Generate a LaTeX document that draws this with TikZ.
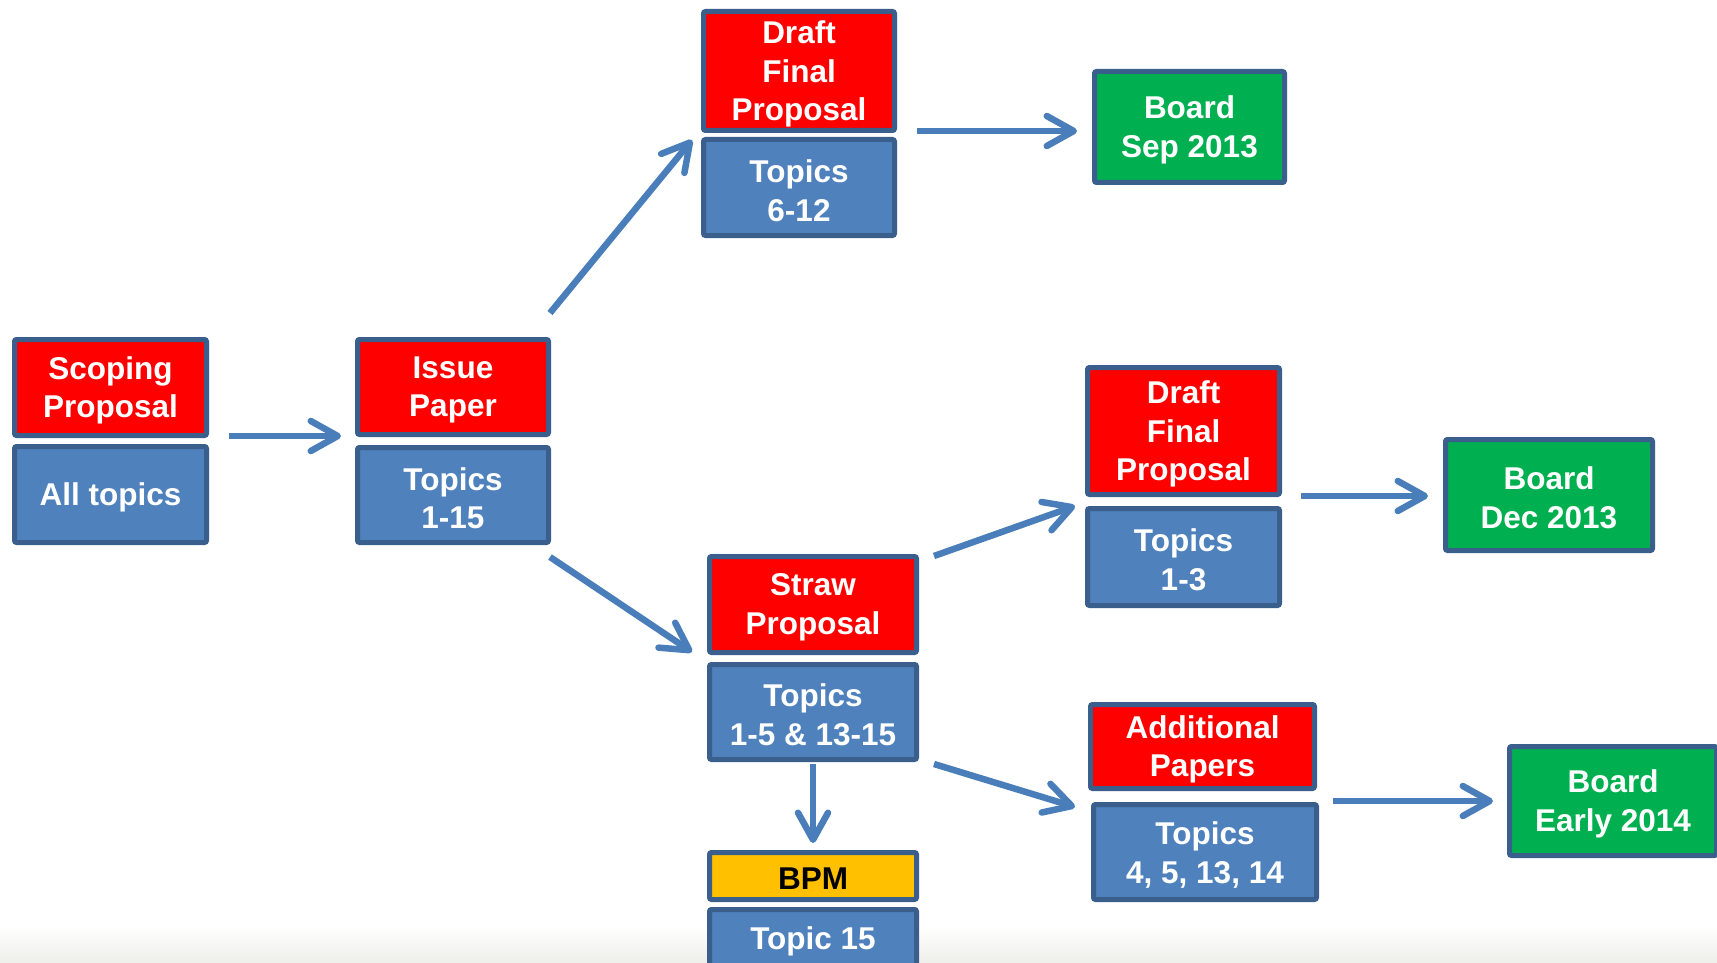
\documentclass[tikz,border=0pt]{standalone}
\usepackage{fontspec}
\setmainfont{Liberation Sans}
\usetikzlibrary{arrows.meta}
\definecolor{bred}{HTML}{FF0000}
\definecolor{bblue}{HTML}{4F81BD}
\definecolor{bgreen}{HTML}{00B050}
\definecolor{byellow}{HTML}{FFC000}
\definecolor{bborder}{HTML}{3A5F8C}
\definecolor{arrowc}{HTML}{4A7EBB}
\definecolor{floor}{HTML}{EEEEEA}
\tikzset{
  box/.style={draw=bborder, line width=5pt, rounded corners=2pt, inner sep=0pt},
  boxtext/.style={inner sep=0pt, align=center,
    font=\fontsize{31.5}{38.5}\selectfont\bfseries},
  flow/.style={draw=arrowc, line width=6.5pt,
    -{Straight Barb[length=27pt, width=30pt, line width=6.5pt, round]}}
}
% name, x1, y1, x2, y2, fill, text colour, text
\newcommand\bx[8]{%
  \node[box, fill=#6, minimum width={#4-#2-5}, minimum height={#5-#3-5}] (#1) at ({(#2+#4)/2},{(#3+#5)/2}) {};
  \node[boxtext, text=#7] (#1-t) at ([yshift=-3pt]#1.center) {#8};}
\begin{document}
\begin{tikzpicture}[x=1pt,y=-1pt]
\useasboundingbox (0,0) rectangle (1717,963);
\shade[top color=white, bottom color=floor] (0,925) rectangle (1717,963);
% boxes
\bx{scop}{12}{337}{209}{438}{bred}{white}{Scoping\\Proposal}
\bx{all}{12}{444}{209}{545}{bblue}{white}{All topics}
\bx{issue}{355}{337}{551}{437}{bred}{white}{Issue\\Paper}
\bx{t115}{355}{445}{551}{545}{bblue}{white}{Topics\\1-15}
\bx{dfpa}{701}{9}{897}{133}{bred}{white}{Draft\\Final\\Proposal}
\bx{t612}{701}{137}{897}{238}{bblue}{white}{Topics\\6-12}
\bx{boarda}{1092}{69}{1287}{185}{bgreen}{white}{Board\\Sep 2013}
\bx{straw}{707}{554}{919}{655}{bred}{white}{Straw\\Proposal}
\bx{t1515}{707}{662}{919}{762}{bblue}{white}{Topics\\1-5 \& 13-15}
\bx{bpm}{707}{850}{919}{902}{byellow}{black}{BPM}
\bx{t15}{707}{907}{919}{970}{bblue}{white}{Topic 15}
\bx{dfpb}{1085}{365}{1282}{497}{bred}{white}{Draft\\Final\\Proposal}
\bx{t13}{1085}{506}{1282}{608}{bblue}{white}{Topics\\1-3}
\bx{boardb}{1443}{437}{1655}{553}{bgreen}{white}{Board\\Dec 2013}
\bx{add}{1088}{702}{1317}{791}{bred}{white}{Additional\\Papers}
\bx{t4}{1091}{802}{1319}{902}{bblue}{white}{Topics\\4, 5, 13, 14}
\bx{boardc}{1507}{744}{1719}{858}{bgreen}{white}{Board\\Early 2014}
% connector end points
\coordinate (a1s) at (229,436);  \coordinate (a1e) at (341,436);
\coordinate (a2s) at (550,313);  \coordinate (a2e) at (692,140);
\coordinate (a3s) at (550,557);  \coordinate (a3e) at (692,652);
\coordinate (a4s) at (917,131);  \coordinate (a4e) at (1077,131);
\coordinate (a5s) at (934,556);  \coordinate (a5e) at (1075,506);
\coordinate (a6s) at (1301,496); \coordinate (a6e) at (1428,496);
\coordinate (a7s) at (934,764);  \coordinate (a7e) at (1075,807);
\coordinate (a8s) at (1333,801); \coordinate (a8e) at (1493,801);
\coordinate (a9s) at (813,764);  \coordinate (a9e) at (813,843);
\draw[flow] (a1s) -- (a1e);
\draw[flow] (a2s) -- (a2e);
\draw[flow] (a3s) -- (a3e);
\draw[flow] (a4s) -- (a4e);
\draw[flow] (a5s) -- (a5e);
\draw[flow] (a6s) -- (a6e);
\draw[flow] (a7s) -- (a7e);
\draw[flow] (a8s) -- (a8e);
\draw[flow] (a9s) -- (a9e);
\end{tikzpicture}
\end{document}
